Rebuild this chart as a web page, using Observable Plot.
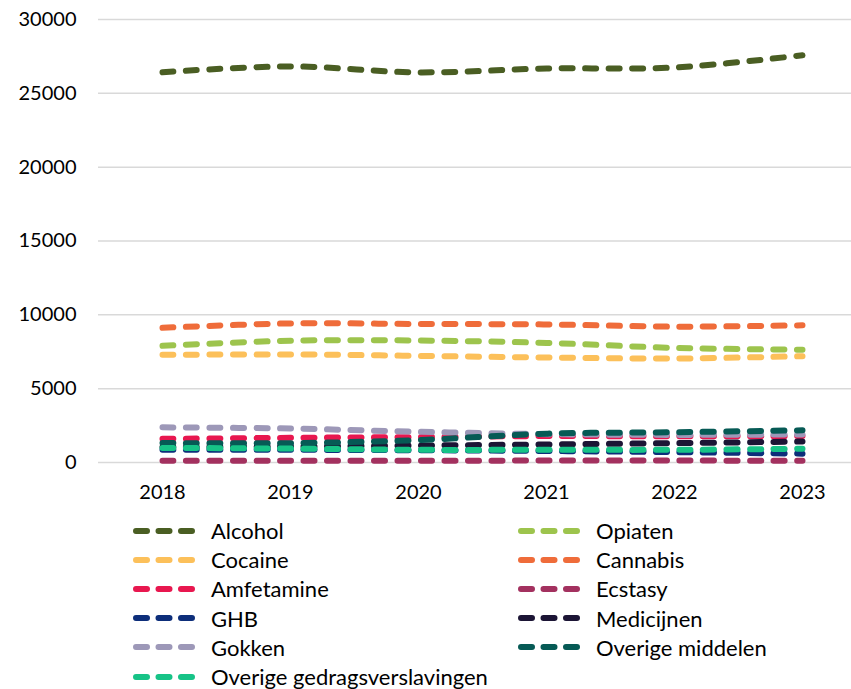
<!DOCTYPE html>
<html><head><meta charset="utf-8">
<script src="https://cdn.jsdelivr.net/npm/d3@7"></script>
<script src="https://cdn.jsdelivr.net/npm/@observablehq/plot@0.6"></script>
<style>
body{margin:0;background:#fff;font-family:Lato,"Open Sans",sans-serif;}
#legend{display:grid;grid-template-columns:385px 300px;margin-left:133px;padding-top:6px;}
.item{display:flex;align-items:center;height:29.2px;font-size:22px;color:#000;white-space:nowrap;}
.item svg{margin-right:16px;flex:none}
</style></head><body>
<div id="chart"></div><div id="legend"></div>
<script>
const years = [2018, 2019, 2020, 2021, 2022, 2023];
const seriesNames = ["Alcohol","Opiaten","Cocaine","Cannabis","Amfetamine","Ecstasy","GHB","Medicijnen","Gokken","Overige middelen","Overige gedragsverslavingen"];
const alcohol    = [26430, 26820, 26420, 26680, 26750, 27580];
const opiaten    = [7900, 8250, 8260, 8100, 7760, 7640];
const cocaine    = [7290, 7320, 7220, 7110, 7040, 7200];
const cannabis   = [9120, 9420, 9380, 9350, 9200, 9290];
const amfetamine = [1600, 1670, 1720, 1790, 1770, 1790];
const ecstasy    = [120, 120, 120, 130, 130, 120];
const ghb        = [870, 860, 830, 780, 700, 600];
const medicijnen = [1050, 1080, 1150, 1220, 1310, 1420];
const gokken     = [2380, 2300, 2080, 1920, 1870, 1900];
const overigeMiddelen = [1320, 1310, 1520, 1950, 2050, 2180];
const overigeGedrag   = [990, 940, 860, 860, 860, 930];
const seriesValues = [alcohol, opiaten, cocaine, cannabis, amfetamine, ecstasy, ghb, medicijnen, gokken, overigeMiddelen, overigeGedrag];
const seriesColors = ["#4a5e23","#9dc44d","#fcc05a","#ef6c3a","#e8174f","#a3315f","#0d2e7a","#1c1535","#9d98b8","#065a55","#17c387"];
const yTicks = [0, 5000, 10000, 15000, 20000, 25000, 30000];
const legendOrder = ["Alcohol","Opiaten","Cocaine","Cannabis","Amfetamine","Ecstasy","GHB","Medicijnen","Gokken","Overige middelen","Overige gedragsverslavingen"];

const data = seriesNames.flatMap((name, i) => years.map((year, j) => ({series: name, year, value: seriesValues[i][j]})));
const dash = "11,12.5";

const lineMarks = seriesNames.map(name =>
  Plot.line(data.filter(d => d.series === name), {
    x: "year", y: "value", stroke: "series", strokeWidth: 6,
    strokeDasharray: dash, strokeLinecap: "round", curve: "catmull-rom"
  })
);

const chart = Plot.plot({
  width: 851, height: 510,
  marginLeft: 98, marginRight: 0, marginTop: 19, marginBottom: 48,
  style: {fontFamily: "Lato, 'Open Sans', sans-serif", fontSize: "20px", color: "#000", background: "#fff"},
  x: {domain: [2017.5, 2017.5 + 753/128]},
  y: {domain: [0, 30000]},
  color: {domain: seriesNames, range: seriesColors},
  marks: [
    Plot.ruleY(yTicks, {stroke: "#d9d9d9", strokeWidth: 1.5}),
    Plot.axisY(yTicks, {tickSize: 0, tickPadding: 22, fontSize: 20, tickFormat: d3.format("d"), label: null}),
    Plot.axisX(years, {tickSize: 0, tickPadding: 22, fontSize: 20, tickFormat: d3.format("d"), label: null}),
    ...lineMarks
  ]
});
document.getElementById("chart").appendChild(chart);

const legend = document.getElementById("legend");
legendOrder.forEach(name => {
  const i = seriesNames.indexOf(name);
  const item = document.createElement("div");
  item.className = "item";
  item.innerHTML = `<svg width="62" height="10"><line x1="3" y1="5" x2="59" y2="5" stroke="${seriesColors[i]}" stroke-width="6" stroke-linecap="round" stroke-dasharray="11,11.5"/></svg><span>${name}</span>`;
  legend.appendChild(item);
});
</script>
</body></html>
